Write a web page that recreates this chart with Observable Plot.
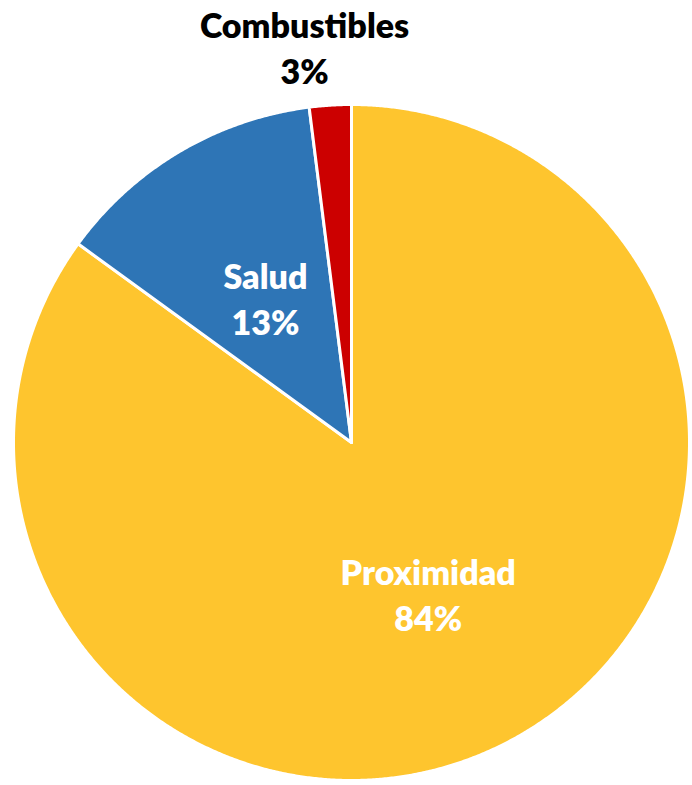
<!DOCTYPE html>
<html>
<head>
<meta charset="utf-8">
<script src="https://cdn.jsdelivr.net/npm/d3@7"></script>
<script src="https://cdn.jsdelivr.net/npm/@observablehq/plot@0.6"></script>
<style>
  html, body { margin: 0; padding: 0; background: #fff; }
  #chart svg { display: block; }
</style>
</head>
<body>
<div id="chart"></div>
<script>
// Data
const categories = ["Proximidad", "Salud", "Combustibles"];
const shares = [85, 13, 2];               // slice sizes as drawn
const percentLabels = ["84%", "13%", "3%"]; // labels as printed
const colors = ["#FEC52E", "#2E75B6", "#CC0000"];
const textColors = ["white", "white", "black"];
const outside = [false, false, true];

const pie = d3.pie().sort(null).value(d => d.share)(
  categories.map((c, i) => ({cat: c, share: shares[i], label: percentLabels[i]}))
);

// polygon points for each slice (unit circle, clockwise from 12 o'clock)
const pts = [];
for (const a of pie) {
  const n = Math.max(2, Math.ceil((a.endAngle - a.startAngle) / 0.005));
  pts.push({cat: a.data.cat, x: 0, y: 0});
  for (let k = 0; k <= n; k++) {
    const t = a.startAngle + (a.endAngle - a.startAngle) * k / n;
    pts.push({cat: a.data.cat, x: Math.sin(t), y: Math.cos(t)});
  }
}

const labels = pie.map((a, i) => {
  const mid = (a.startAngle + a.endAngle) / 2;
  const r = outside[i] ? 1.175 : 0.5;
  return {
    cat: a.data.cat,
    text: a.data.cat + "\n" + a.data.label,
    x: Math.sin(mid) * r,
    y: Math.cos(mid) * r,
    color: textColors[i],
    out: outside[i]
  };
});

const textStyle = {
  x: "x", y: "y", text: "text", fill: "color",
  fontSize: 34, fontWeight: 800, lineHeight: 1.35
};

const chart = Plot.plot({
  width: 692,
  height: 785,
  marginLeft: 13,
  marginRight: 3,
  marginTop: 104,
  marginBottom: 5,
  x: {domain: [-1, 1], axis: null},
  y: {domain: [-1, 1], axis: null},
  color: {domain: categories, range: colors},
  style: {fontFamily: "Lato, 'Open Sans', sans-serif"},
  marks: [
    Plot.line(pts, {
      x: "x", y: "y", z: "cat", fill: "cat",
      stroke: "white", strokeWidth: 3, strokeLinejoin: "round",
      curve: "linear-closed"
    }),
    Plot.text(labels.filter(d => !d.out), textStyle),
    Plot.text(labels.filter(d => d.out), {...textStyle, dx: -22})
  ]
});
document.getElementById("chart").appendChild(chart);
</script>
</body>
</html>
